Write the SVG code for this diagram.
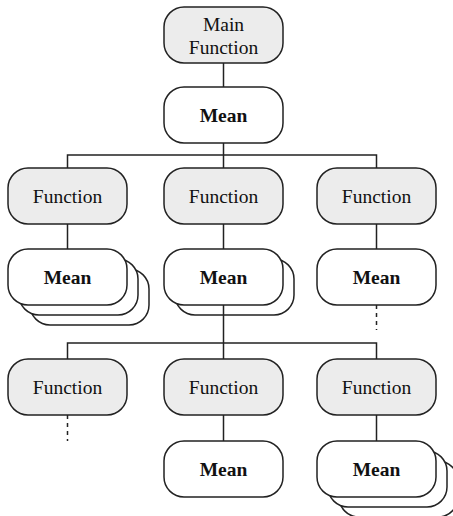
<svg xmlns="http://www.w3.org/2000/svg" width="453" height="516" viewBox="0 0 453 516">
  <style>
    .box { stroke: #222; stroke-width: 1.5; }
    .fn { fill: #ececec; }
    .mean { fill: #fff; }
    .lbl { font-family: "Liberation Serif", "Times New Roman", serif; font-size: 19.5px; fill: #111; text-anchor: middle; }
    .b { font-weight: bold; }
    .link { stroke: #222; stroke-width: 1.5; fill: none; }
    .dash { stroke-dasharray: 4 4; }
  </style>
  <defs>
    <rect id="fnbox" class="box fn" width="119" height="56" rx="20" ry="20"/>
    <rect id="meanbox" class="box mean" width="119" height="56" rx="20" ry="20"/>
  </defs>

  <!-- top -->
  <g id="main">
    <use href="#fnbox" x="164" y="7"/>
    <text class="lbl" x="223.5" y="31">Main</text>
    <text class="lbl" x="223.5" y="54">Function</text>
  </g>
  <g id="mean-top">
    <use href="#meanbox" x="164" y="87"/>
    <text class="lbl b" x="223.5" y="122">Mean</text>
  </g>

  <!-- second level -->
  <g id="fn-l1">
    <use href="#fnbox" x="8" y="168"/>
    <text class="lbl" x="67.5" y="203">Function</text>
  </g>
  <g id="fn-m1">
    <use href="#fnbox" x="164" y="168"/>
    <text class="lbl" x="223.5" y="203">Function</text>
  </g>
  <g id="fn-r1">
    <use href="#fnbox" x="317" y="168"/>
    <text class="lbl" x="376.5" y="203">Function</text>
  </g>

  <g id="mean-l1">
    <use href="#meanbox" x="30" y="269"/>
    <use href="#meanbox" x="19" y="259"/>
    <use href="#meanbox" x="8" y="249"/>
    <text class="lbl b" x="67.5" y="284">Mean</text>
  </g>
  <g id="mean-m1">
    <use href="#meanbox" x="175" y="259"/>
    <use href="#meanbox" x="164" y="249"/>
    <text class="lbl b" x="223.5" y="284">Mean</text>
  </g>
  <g id="mean-r1">
    <use href="#meanbox" x="317" y="249"/>
    <text class="lbl b" x="376.5" y="284">Mean</text>
  </g>

  <!-- third level -->
  <g id="fn-l2">
    <use href="#fnbox" x="8" y="359"/>
    <text class="lbl" x="67.5" y="394">Function</text>
  </g>
  <g id="fn-m2">
    <use href="#fnbox" x="164" y="359"/>
    <text class="lbl" x="223.5" y="394">Function</text>
  </g>
  <g id="fn-r2">
    <use href="#fnbox" x="317" y="359"/>
    <text class="lbl" x="376.5" y="394">Function</text>
  </g>

  <g id="mean-m2">
    <use href="#meanbox" x="164" y="441"/>
    <text class="lbl b" x="223.5" y="476">Mean</text>
  </g>
  <g id="mean-r2">
    <use href="#meanbox" x="339" y="461"/>
    <use href="#meanbox" x="328" y="451"/>
    <use href="#meanbox" x="317" y="441"/>
    <text class="lbl b" x="376.5" y="476">Mean</text>
  </g>

  <!-- connectors -->
  <g id="connectors">
    <path class="link" d="M223.5 63V87"/>
    <path class="link" d="M223.5 143V155M67.5 168V155H376.5V168M223.5 155V168"/>
    <path class="link" d="M67.5 224V249M223.5 224V249M376.5 224V249"/>
    <path class="link" d="M223.5 305V343M67.5 359V343H376.5V359M223.5 343V359"/>
    <path class="link" d="M223.5 415V441M376.5 415V441"/>
    <path class="link dash" d="M376.5 305V330"/>
    <path class="link dash" d="M67.5 415V441"/>
  </g>
</svg>
